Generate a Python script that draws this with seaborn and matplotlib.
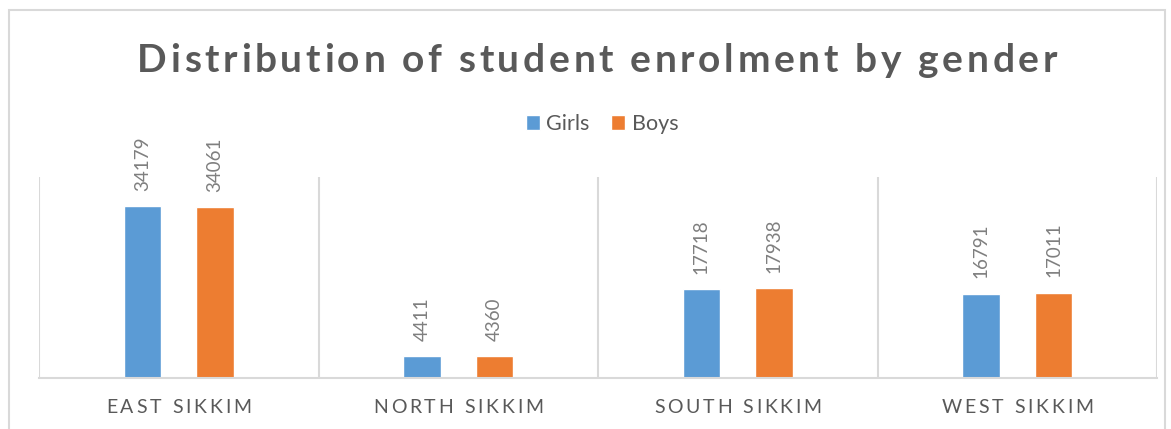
import numpy as np
import pandas as pd
import matplotlib
matplotlib.use("Agg")
import matplotlib.pyplot as plt
from matplotlib.patches import Rectangle
from matplotlib.font_manager import FontProperties
import seaborn as sns

# Chart data
districts = ["EAST SIKKIM", "NORTH SIKKIM", "SOUTH SIKKIM", "WEST SIKKIM"]
girls = [34179, 4411, 17718, 16791]
boys = [34061, 4360, 17938, 17011]

df = pd.DataFrame({
    "District": districts * 2,
    "Gender": ["Girls"] * len(districts) + ["Boys"] * len(districts),
    "Students": girls + boys,
})

palette = {"Girls": "#5B9BD5", "Boys": "#ED7D31"}
text_grey = "#595959"
label_grey = "#7F7F7F"
line_grey = "#D9D9D9"
W, H = 1171, 429

sns.set_style("white")
plt.rcParams['font.family'] = ['Lato', 'DejaVu Sans']

fig = plt.figure(figsize=(W / 100, H / 100), dpi=100)
ax = fig.add_axes([39 / W, 51 / H, 1118 / W, 201 / H])
renderer = fig.canvas.get_renderer()


def text_width(s, prop):
    w, _, _ = renderer.get_text_width_height_descent(s, prop, ismath=False)
    return w


def spaced_text(cx, base_y, s, prop, color, spacing=0.0, target=None):
    """Draw s centred on pixel cx with extra letter spacing (pixels)."""
    n = len(s)
    natural = text_width(s, prop)
    if target is not None:
        spacing = (target - natural) / (n - 1)
    total = natural + spacing * (n - 1)
    x0 = cx - total / 2
    for i, c in enumerate(s):
        if c == " ":
            continue
        left = text_width(s[:i + 1], prop) - text_width(c, prop) + i * spacing
        fig.text((x0 + left) / W, 1 - base_y / H, c, fontproperties=prop,
                 color=color, ha="left", va="baseline")


sns.barplot(data=df, x="District", y="Students", hue="Gender", palette=palette,
            width=0.52, gap=0.48, saturation=1, ax=ax, legend=True)

ax.set_ylim(0, 40000)
ax.set_xlim(-0.5, len(districts) - 0.5)

# value labels, rotated like the original
for container in ax.containers:
    ax.bar_label(container, labels=[str(int(v)) for v in container.datavalues],
                 rotation=90, padding=11, fontsize=13.5, color=label_grey)

# vertical separators between categories
for xb in np.arange(-0.5, len(districts), 1.0):
    ax.axvline(xb, color=line_grey, lw=1.5, zorder=0)

for side in ["top", "right", "left"]:
    ax.spines[side].set_visible(False)
ax.spines["bottom"].set_color(line_grey)
ax.spines["bottom"].set_linewidth(1.5)

ax.set_yticks([])
ax.set_xlabel("")
ax.set_ylabel("")
ax.set_xticks(range(len(districts)))
ax.set_xticklabels([])
ax.tick_params(axis="x", length=0)

# category labels with wide letter spacing
tick_prop = FontProperties(family="Lato", size=14)
for i, name in enumerate(districts):
    px = ax.transData.transform((i, 0))[0]
    spaced_text(px, 413, name, tick_prop, text_grey, spacing=2.8)

# legend centred above the plot
handles, labels = ax.get_legend_handles_labels()
ax.get_legend().remove()
fig.legend(handles, labels, loc="center", bbox_to_anchor=(602 / W, 1 - 124 / H),
           ncol=2, frameon=False, prop=FontProperties(family="Lato", size=15.5),
           handlelength=0.65, handleheight=0.65, handletextpad=0.3,
           columnspacing=1.0, labelcolor=text_grey)

# title with letter spacing
title_prop = FontProperties(family="Lato", size=28, weight="bold")
spaced_text(597, 72, "Distribution of student enrolment by gender", title_prop,
            text_grey, target=920)

# outer chart border
fig.patches.append(Rectangle((9 / W, -0.05), 1156 / W, 1.05 - 10 / H,
                             transform=fig.transFigure, fill=False,
                             edgecolor=line_grey, lw=1.5))

fig.savefig("out.png", dpi=100)
